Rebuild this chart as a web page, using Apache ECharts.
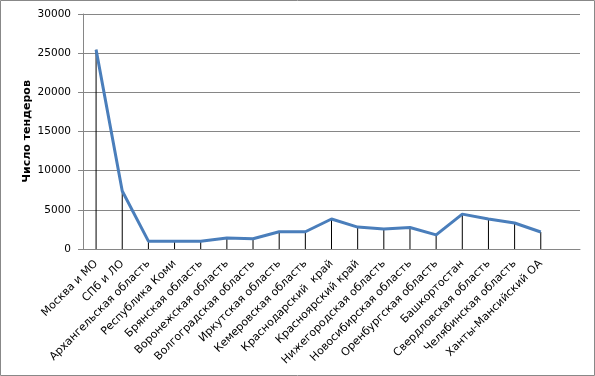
<!DOCTYPE html>
<html><head><meta charset="utf-8">
<script src="https://cdn.jsdelivr.net/npm/echarts@6/dist/echarts.min.js"></script>
<style>html,body{margin:0;padding:0;background:#fff}#c{width:595px;height:376px}</style>
</head><body><div id="c"></div>
<script>
var categories = ["Москва и МО","СПб и ЛО","Архангельская область","Республика Коми","Брянская область","Воронежская область","Волгоградская область","Иркутская область","Кемеровская область","Краснодарский  край","Красноярский край","Нижегородская область","Новосибирская область","Оренбургская область","Башкортостан","Свердловская область","Челябинская область","Ханты-Мансийский ОА",""];
var tenders = [25450,7400,1000,1000,1000,1400,1300,2200,2200,3830,2800,2550,2750,1800,4450,3830,3320,2170,null];
var yTicks = {min:0,max:30000,interval:5000};
var yName = "Число тендеров";

var chart = echarts.init(document.getElementById('c'), null, {renderer:'canvas'});
var font = "DejaVu Sans";
chart.setOption({
  animation:false,
  textStyle:{fontFamily:font},
  graphic:[{type:'rect',shape:{x:0.5,y:0.5,width:594,height:375},style:{fill:null,stroke:'#888',lineWidth:1},silent:true}],
  grid:{left:83,right:15,top:14,bottom:127,containLabel:false},
  xAxis:{type:'category',data:categories,boundaryGap:true,
    axisLine:{lineStyle:{color:'#868686',width:1}},
    axisTick:{show:false},
    axisLabel:{rotate:45,interval:0,fontSize:11,color:'#000',fontFamily:font,margin:13}},
  yAxis:{type:'value',min:yTicks.min,max:yTicks.max,interval:yTicks.interval,
    name:yName,nameLocation:'middle',nameGap:50,nameRotate:90,nameMoveOverlap:false,
    nameTextStyle:{fontSize:11,fontWeight:'bold',color:'#000',fontFamily:font},
    axisLine:{show:true,lineStyle:{color:'#868686',width:1}},
    axisTick:{show:true,length:5,lineStyle:{color:'#868686'}},
    axisLabel:{fontSize:10.5,color:'#000',fontFamily:font,margin:12,formatter:function(v){return String(v);}},
    splitLine:{lineStyle:{color:'#868686',width:1}}},
  series:[
    {type:'bar',data:tenders,barWidth:1,itemStyle:{color:'#000'},z:2,silent:true},
    {type:'line',data:tenders,symbol:'none',lineStyle:{color:'#4a7ebb',width:3},z:3,silent:true,connectNulls:false}
  ]
});
</script></body></html>
